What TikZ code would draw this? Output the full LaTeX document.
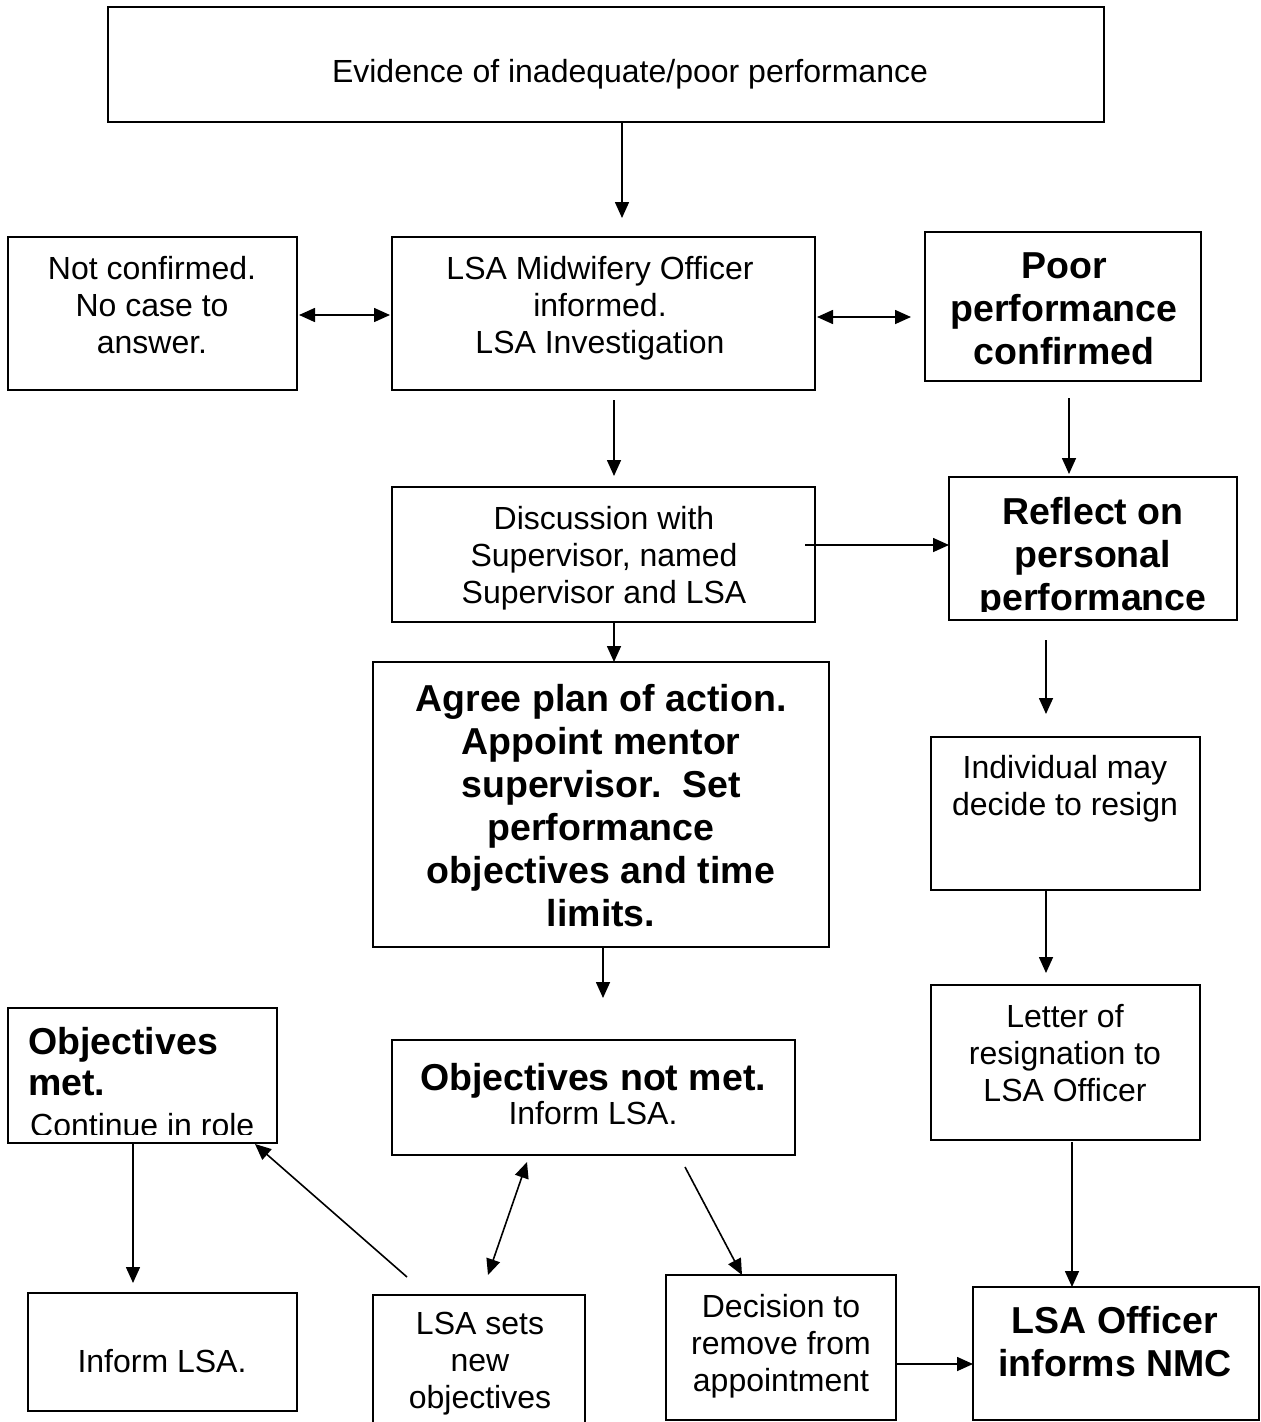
\documentclass[tikz,border=0pt]{standalone}
\usepackage{fontspec}
\setmainfont{Liberation Sans}
\usetikzlibrary{arrows.meta}
\begin{document}
\begin{tikzpicture}[x=1pt,y=-1pt,
  box/.style={draw, line width=1.8pt, inner sep=0pt, outer sep=0pt, anchor=north west},
  reg/.style={font=\fontsize{32}{37}\selectfont, align=center, inner sep=0pt},
  bld/.style={font=\fontsize{37.5}{43}\selectfont\bfseries, align=center, inner sep=0pt},
  arr/.style={line width=1.6pt, -{Triangle[length=16pt,width=14pt]}},
  darr/.style={line width=1.6pt, {Triangle[length=16pt,width=14pt]}-{Triangle[length=16pt,width=14pt]}}]
\useasboundingbox[fill=white] (0,0) rectangle (1261,1422);

% boxes
\node[box, minimum width=996pt, minimum height=115pt] (top) at (108,7) {};
\node[box, minimum width=289pt, minimum height=153pt] (nc) at (8,237) {};
\node[box, minimum width=423pt, minimum height=153pt] (lsa) at (392,237) {};
\node[box, minimum width=276pt, minimum height=149pt] (poor) at (925,232) {};
\node[box, minimum width=423pt, minimum height=135pt] (disc) at (392,487) {};
\node[box, minimum width=288pt, minimum height=143pt] (refl) at (949,477) {};
\node[box, minimum width=456pt, minimum height=285pt] (agree) at (373,662) {};
\node[box, minimum width=269pt, minimum height=153pt] (indiv) at (931,737) {};
\node[box, minimum width=269pt, minimum height=155pt] (letter) at (931,985) {};
\node[box, minimum width=269pt, minimum height=135pt] (objmet) at (8,1008) {};
\node[box, minimum width=403pt, minimum height=115pt] (objnot) at (392,1040) {};
\node[box, minimum width=269pt, minimum height=118pt] (inform) at (28,1293) {};
\node[box, minimum width=212pt, minimum height=145pt] (sets) at (373,1295) {};
\node[box, minimum width=230pt, minimum height=145pt] (decis) at (666,1275) {};
\node[box, minimum width=286pt, minimum height=133pt] (nmc) at (973,1287) {};

% texts
\node[reg] (topt) at (630,74) {Evidence of inadequate/poor performance};
\node[reg] (nct) at (152,305) {Not confirmed.\\No case to\\answer.};
\node[reg] (lsat) at (600,308) {LSA Midwifery Officer\\informed.\\LSA Investigation};
\node[bld] (poort) at (1064,309) {Poor\\performance\\confirmed};
\node[reg] (disct) at (604,558) {Discussion with\\Supervisor, named\\Supervisor and LSA};
\begin{scope}
\clip (949,477) rectangle (1237,611);
\node[bld] (reflt) at (1093,558) {Reflect on\\personal\\performance};
\end{scope}
\node[bld] (agreet) at (601,806) {Agree plan of action.\\Appoint mentor\\supervisor.\ \ Set\\performance\\objectives and time\\limits.};
\node[reg] (indivt) at (1065,789) {Individual may\\decide to resign};
\node[reg] (lettert) at (1065,1053) {Letter of\\resignation to\\LSA Officer};
\node[bld, anchor=base west] (objmet1) at (28,1054) {Objectives};
\node[bld, anchor=base west] (objmet2) at (28,1095) {met.};
\begin{scope}
\clip (8,1008) rectangle (277,1134);
\node[reg, anchor=base west] (objmet3) at (30,1136) {Continue in role};
\end{scope}
\node[bld] (objnot1) at (593,1081) {Objectives not met.};
\node[reg] (objnot2) at (593,1113) {Inform LSA.};
\node[reg] (informt) at (162,1361) {Inform LSA.};
\node[reg] (setst) at (480,1364) {LSA sets\\new\\objectives};
\node[reg] (decist) at (781,1346) {Decision to\\remove from\\appointment};
\node[bld] (nmct) at (1115,1342) {LSA Officer\\informs NMC};

% connector end points
\coordinate (c1) at (622,218);
\coordinate (c2a) at (299,315);
\coordinate (c2b) at (390,315);
\coordinate (c3a) at (817,317);
\coordinate (c3b) at (911,317);
\coordinate (c4a) at (614,400);
\coordinate (c4b) at (614,476);
\coordinate (c5a) at (1069,398);
\coordinate (c5b) at (1069,474);
\coordinate (c6a) at (805,545);
\coordinate (c7) at (614,622);
\coordinate (c8a) at (1046,640);
\coordinate (c8b) at (1046,714);
\coordinate (c9) at (1046,890);
\coordinate (c9b) at (1046,973);
\coordinate (c10) at (1072,1142);
\coordinate (c11) at (603,998);
\coordinate (c12a) at (527,1162);
\coordinate (c12b) at (488,1275);
\coordinate (c13a) at (685,1167);
\coordinate (c13b) at (742,1275);
\coordinate (c14a) at (407,1277);
\coordinate (c14b) at (255,1144);
\coordinate (c15) at (133,1143);
\coordinate (c15b) at (133,1283);
\coordinate (c16) at (896,1364);

% connectors
\draw[arr] (top.south -| c1) -- (c1);
\draw[darr] (c2a) -- (c2b);
\draw[darr] (c3a) -- (c3b);
\draw[arr] (c4a) -- (c4b);
\draw[arr] (c5a) -- (c5b);
\draw[arr] (c6a) -- (refl.west |- c6a);
\draw[arr] (c7) -- (agree.north -| c7);
\draw[arr] (c8a) -- (c8b);
\draw[arr] (c9) -- (c9b);
\draw[arr] (c10) -- (nmc.north -| c10);
\draw[arr] (agree.south -| c11) -- (c11);
\draw[darr] (c12a) -- (c12b);
\draw[arr] (c13a) -- (c13b);
\draw[arr] (c14a) -- (c14b);
\draw[arr] (c15) -- (c15b);
\draw[arr] (c16) -- (nmc.west |- c16);
\end{tikzpicture}
\end{document}
